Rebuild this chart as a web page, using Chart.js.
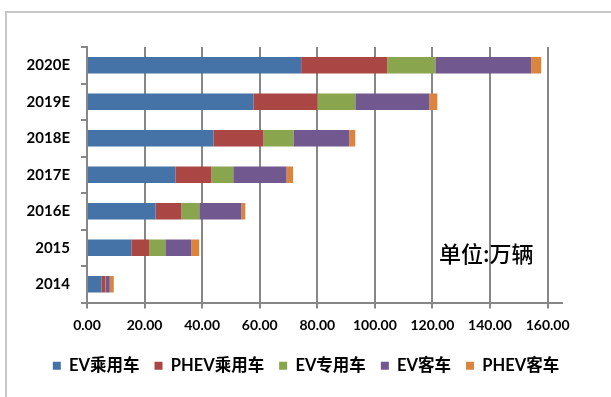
<!DOCTYPE html>
<html>
<head>
<meta charset="utf-8">
<script src="https://cdn.jsdelivr.net/npm/chart.js@4/dist/chart.umd.min.js"></script>
<style>
    html, body { margin: 0; padding: 0; background: #fff; }
    #wrap { position: relative; width: 611px; height: 397px; overflow: hidden; }
    #frame { position: absolute; left: 5px; top: 11px; width: 700px; height: 500px; border: 2px solid #c8c8c8; }
    #unit { position: absolute; left: 439px; top: 236px; font: 500 22px 'Noto Sans CJK SC', sans-serif; color: #000; }
    canvas { position: absolute; left: 0; top: 0; }
</style>
</head>
<body>
<div id="wrap">
    <div id="frame"></div>
    <canvas id="chart" width="611" height="397"></canvas>
    <div id="unit">单位:万辆</div>
</div>
<script>
const years = ['2020E', '2019E', '2018E', '2017E', '2016E', '2015', '2014'];

const evPassenger   = [74.4, 57.8, 43.9, 30.7, 23.8, 15.4, 5.0];
const phevPassenger = [29.9, 22.2, 17.4, 12.5, 9.0, 6.2, 1.4];
const evSpecial     = [16.7, 13.2, 10.4, 7.6, 6.2, 5.6, 0.1];
const evBus         = [33.3, 25.7, 19.4, 18.5, 14.6, 9.0, 1.4];
const phevBus       = [3.5, 2.8, 2.1, 2.3, 1.4, 2.8, 1.4];

const seriesNames = ['EV乘用车', 'PHEV乘用车', 'EV专用车', 'EV客车', 'PHEV客车'];
const seriesColors = ['#4572A7', '#AA4643', '#89A54E', '#71588F', '#DB843D'];
const xTicks = [0, 20, 40, 60, 80, 100, 120, 140, 160];

const labelFont = "Lato, 'Noto Sans CJK SC', sans-serif";

// the legend in the original sits a bit right of centre
const legendShift = {
    id: 'legendShift',
    afterLayout(chart) {
        chart.legend.left += 25;
        chart.legend.right += 25;
    }
};

function renderChart() {
    const ctx = document.getElementById('chart').getContext('2d');
    const values = [evPassenger, phevPassenger, evSpecial, evBus, phevBus];

    window.salesChart = new Chart(ctx, {
        type: 'bar',
        data: {
            labels: years,
            datasets: values.map((data, i) => ({
                label: seriesNames[i],
                data: data,
                backgroundColor: seriesColors[i],
                borderWidth: 0,
                categoryPercentage: 1,
                barPercentage: 0.45
            }))
        },
        plugins: [legendShift],
        options: {
            indexAxis: 'y',
            responsive: false,
            animation: false,
            layout: {
                padding: { top: 47, right: 49, left: 0, bottom: 13 }
            },
            plugins: {
                tooltip: { enabled: false },
                legend: {
                    position: 'bottom',
                    labels: {
                        color: '#000',
                        font: { family: labelFont, size: 16.5, weight: 'bold' },
                        boxWidth: 8,
                        boxHeight: 8,
                        padding: 15
                    }
                }
            },
            scales: {
                x: {
                    stacked: true,
                    min: 0,
                    max: 165,
                    afterBuildTicks: function(scale) {
                        scale.ticks = xTicks.map(v => ({ value: v }));
                    },
                    afterFit: function(scale) {
                        scale.height = 40;
                    },
                    grid: {
                        color: '#878787',
                        lineWidth: 2,
                        tickLength: 6
                    },
                    border: { color: '#878787', width: 2 },
                    ticks: {
                        color: '#000',
                        padding: 9,
                        maxRotation: 0,
                        font: { family: labelFont, size: 14, weight: 'bold' },
                        callback: function(value) {
                            return Number(value).toFixed(2);
                        }
                    }
                },
                y: {
                    stacked: true,
                    afterFit: function(scale) {
                        scale.width = 87;
                    },
                    grid: {
                        offset: true,
                        drawOnChartArea: false,
                        color: '#878787',
                        lineWidth: 2,
                        tickLength: 6
                    },
                    border: { color: '#878787', width: 2 },
                    ticks: {
                        color: '#000',
                        padding: 11,
                        font: { family: labelFont, size: 15, weight: 'bold' }
                    }
                }
            }
        }
    });
}

renderChart();
</script>
</body>
</html>
